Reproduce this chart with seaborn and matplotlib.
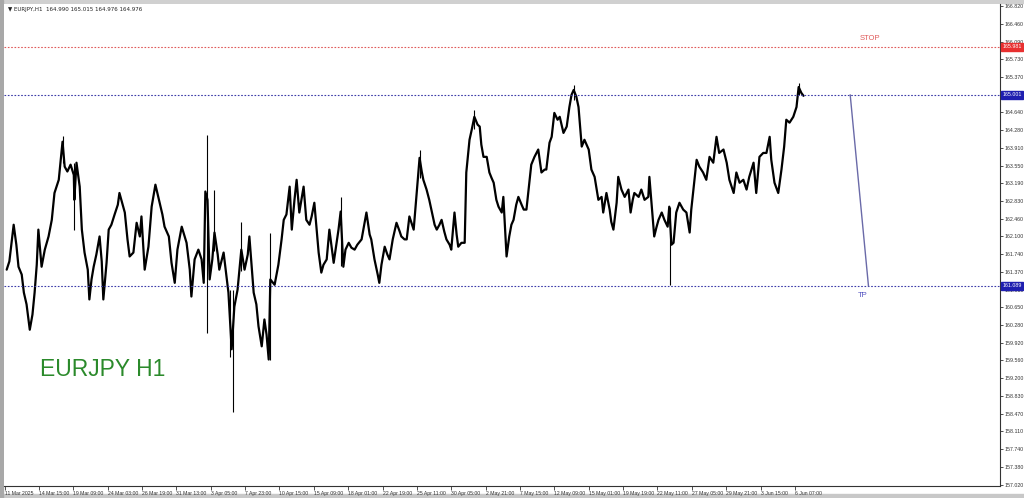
import numpy as np
import pandas as pd
import matplotlib
matplotlib.use("Agg")
import matplotlib.pyplot as plt
import seaborn as sns

# ---------------- data ----------------
# hour index (bars since first visible bar) and price
hours = [2, 7, 15, 20, 24, 30, 34, 39, 45, 50, 54, 58, 61, 67, 73, 80, 86, 91, 99, 106,
         110, 115, 121, 127, 128, 132, 138, 142, 147, 153, 156, 160, 164, 169, 175, 179, 182, 188, 192, 197,
         203, 209, 212, 218, 222, 227, 231, 238, 244, 250, 253, 259, 266, 272, 279, 287, 292, 296, 304, 309,
         315, 320, 328, 337, 343, 346, 352, 359, 365, 369, 372, 376, 380, 385, 389, 395, 398, 406, 411, 415,
         421, 426, 432, 439, 445, 451, 454, 462, 467, 471, 477, 482, 486, 490, 493, 501, 508,
         514, 518, 523, 529, 533, 538, 542, 547, 555, 560, 566, 570, 575, 583, 588, 592, 598, 603, 611,
         616, 620, 624, 629, 633, 639, 644, 650, 655, 663, 668, 672, 678, 681, 687, 693, 696, 700, 706,
         711, 715, 721, 728, 734, 737, 743, 747, 752, 760, 765, 771, 775, 778, 784, 789, 793, 799, 803,
         808, 812, 817, 821, 827, 830, 836, 840, 843, 849, 855, 858, 864, 868, 873, 879, 883, 886, 890,
         896, 901, 905, 909, 914, 918, 924, 927, 933, 938, 942, 946, 951, 955, 961, 965, 970, 976, 979,
         985, 992, 998, 1004, 1007, 1013,
         1017, 1022, 1028, 1032, 1039, 1045, 1050, 1054, 1058, 1063, 1067, 1073, 1078, 1086, 1091, 1097,
         1104, 1110, 1113, 1119, 1125, 1128, 1132, 1138, 1141, 1147, 1153, 1160, 1164, 1168, 1171, 1179,
         1184, 1190, 1197, 1199, 1205, 1208, 1212, 1216, 1222, 1227, 1233, 1236, 1240, 1244, 1249, 1255,
         1262, 1268, 1274, 1277, 1281, 1287, 1292, 1299, 1305, 1311, 1318, 1324, 1329, 1337, 1343, 1348,
         1356, 1361, 1367, 1374, 1380, 1385, 1393, 1398, 1404, 1411, 1417, 1423, 1426, 1432, 1439, 1445,
         1450, 1454, 1460, 1467, 1473, 1477, 1482, 1486]
close = [161.42, 161.59, 162.34, 161.93, 161.48, 161.32, 160.95, 160.71, 160.19, 160.50, 160.95, 161.52, 162.24, 161.48, 161.83, 162.10, 162.44, 162.99, 163.26, 164.04,
         163.53, 163.43, 163.57, 163.36, 162.85, 163.61, 163.12, 162.24, 161.77, 161.42, 160.81, 161.22, 161.48, 161.73, 162.10, 161.59, 160.81, 161.56, 162.24, 162.34,
         162.55, 162.75, 162.99, 162.75, 162.59, 162.04, 161.69, 161.77, 162.38, 162.10, 162.51, 161.42, 161.89, 162.71, 163.16, 162.79, 162.55, 162.30, 162.10, 161.56,
         161.15, 161.83, 162.30, 161.97, 161.42, 160.87, 161.63, 161.83, 161.63, 161.15, 163.02, 162.85, 161.22, 161.63, 162.18, 161.73, 161.42, 161.77, 161.32, 160.95,
         159.79, 160.66, 161.01, 161.83, 161.42, 161.73, 162.10, 160.95, 160.71, 160.26, 159.85, 160.40, 160.09, 159.58, 161.22, 161.11, 161.52,
         162.04, 162.44, 162.55, 163.12, 162.24, 162.85, 163.26, 162.59, 163.12, 162.44, 162.34, 162.51, 162.79, 161.77, 161.36, 161.52, 161.63, 162.24, 161.56,
         161.93, 162.24, 162.61, 161.48, 161.83, 161.97, 161.87, 161.83, 161.93, 162.04, 162.34, 162.59, 162.14, 162.04, 161.63, 161.32, 161.15, 161.52, 161.89,
         161.73, 161.63, 162.04, 162.38, 162.20, 162.10, 162.04, 162.04, 162.51, 162.24, 162.91, 163.71, 163.43, 163.26, 163.06, 162.85, 162.65, 162.34, 162.24,
         162.34, 162.44, 162.20, 162.04, 161.93, 161.83, 162.59, 162.14, 161.89, 161.97, 161.97, 163.41, 164.08, 164.28, 164.55, 164.39, 164.35, 163.98, 163.73,
         163.73, 163.41, 163.30, 163.20, 162.85, 162.71, 162.59, 162.91, 161.69, 162.10, 162.34, 162.44, 162.75, 162.91, 162.75, 162.65, 162.65, 163.26, 163.57,
         163.73, 163.88, 163.41, 163.47, 163.47, 164.02,
         164.14, 164.63, 164.49, 164.55, 164.22, 164.35, 164.75, 165.00, 165.10, 164.96, 164.75, 163.94, 164.08, 163.88, 163.47, 163.32,
         162.85, 162.91, 162.59, 162.99, 162.65, 162.40, 162.24, 162.79, 163.32, 163.06, 162.91, 163.06, 162.59, 162.85, 162.99, 162.91,
         163.06, 162.85, 162.91, 163.32, 162.51, 162.10, 162.28, 162.44, 162.59, 162.44, 162.30, 162.71, 161.93, 161.97, 162.59, 162.79,
         162.65, 162.59, 162.18, 162.65, 163.06, 163.67, 163.53, 163.41, 163.26, 163.73, 163.61, 164.14, 163.81, 163.88, 163.61, 163.26,
         162.99, 163.41, 163.20, 163.26, 163.06, 163.32, 163.61, 162.99, 163.73, 163.81, 163.81, 164.14, 163.67, 163.20, 162.99, 163.47,
         163.94, 164.49, 164.43, 164.55, 164.75, 165.16, 165.04, 164.98]

# notable wicks: hour, high, low
wick_hours = [106, 128, 376, 389, 417, 424, 439, 493, 624, 771, 873, 1058, 1238, 1477]
wick_high = [164.16, 163.61, 164.18, 163.06, 161.00, 161.00, 162.40, 162.18, 162.91, 163.88, 164.69, 165.21, 162.71, 165.25]
wick_low = [163.60, 162.24, 160.13, 161.80, 159.64, 158.50, 161.40, 159.58, 161.50, 163.30, 164.30, 164.90, 161.11, 165.00]

stop_level = 165.981
entry_level = 165.001
tp_level = 161.089
tp_line_hours = [1573, 1607]

price_ticks = [157.020, 157.380, 157.740, 158.110, 158.470, 158.830, 159.200, 159.560, 159.920,
               160.280, 160.650, 161.010, 161.370, 161.740, 162.100, 162.460, 162.830, 163.190,
               163.550, 163.910, 164.280, 164.640, 165.370, 165.730, 166.090, 166.460, 166.820]
time_labels = ["11 Mar 2025", "14 Mar 15:00", "19 Mar 09:00", "24 Mar 03:00", "26 Mar 19:00",
               "31 Mar 13:00", "3 Apr 05:00", "7 Apr 23:00", "10 Apr 15:00", "15 Apr 09:00",
               "18 Apr 01:00", "22 Apr 19:00", "25 Apr 11:00", "30 Apr 05:00", "2 May 21:00",
               "7 May 15:00", "12 May 09:00", "15 May 01:00", "19 May 19:00", "22 May 11:00",
               "27 May 05:00", "29 May 21:00", "3 Jun 15:00", "6 Jun 07:00"]
bars_per_label = 64
header = "\u25BC EURJPY,H1  164.990 165.015 164.976 164.976"

# ---------------- plot ----------------
sns.set_theme(style="white")
plt.rcParams['font.family'] = ['Liberation Sans', 'DejaVu Sans']

fig = plt.figure(figsize=(10.24, 4.98), dpi=100)
fig.patch.set_facecolor("white")
# window frame strips (gray)
fig.add_artist(plt.Rectangle((0, 0), 1, 4/498, transform=fig.transFigure, color="#c8c8c8", zorder=0))
fig.add_artist(plt.Rectangle((0, 1-3/498), 1, 3/498, transform=fig.transFigure, color="#d0d0d0", zorder=0))
fig.add_artist(plt.Rectangle((0, 0), 3/1024, 1, transform=fig.transFigure, color="#a8a8a8", zorder=0))

ax = fig.add_axes([4/1024, 1-486/498, 996/1024, 482/498])
ax.set_facecolor("white")

df = pd.DataFrame({"hour": hours, "price": close})
sns.lineplot(data=df, x="hour", y="price", ax=ax, color="black", lw=1.6, estimator=None, sort=False)
ax.vlines(wick_hours, wick_low, wick_high, color="black", lw=0.8)

xmin, xmax = -3, 1852
ax.set_xlim(xmin, xmax)
ax.set_ylim(156.99, 166.86)

# horizontal levels
ax.axhline(stop_level, color="#e05a5a", lw=0.8, ls=(0, (1.5, 1.5)))
ax.axhline(entry_level, color="#3b3ba8", lw=0.8, ls=(0, (1.5, 1.5)))
ax.axhline(tp_level, color="#3b3ba8", lw=0.8, ls=(0, (1.5, 1.5)))
ax.plot(tp_line_hours, [entry_level, tp_level], color="#6a6aa8", lw=1.0)
ax.text(1610, stop_level + 0.1, "STOP", color="#e05a5a", fontsize=5.5, ha="center", va="bottom")
ax.text(1597, tp_level - 0.12, "TP", color="#5050c0", fontsize=5.5, ha="center", va="top")

# axes frame
for s in ["top", "left"]:
    ax.spines[s].set_visible(False)
for s in ["right", "bottom"]:
    ax.spines[s].set_color("#333333")
    ax.spines[s].set_linewidth(0.8)

# price axis on right
ax.yaxis.tick_right()
ax.set_yticks(price_ticks)
ax.set_yticklabels([f"{v:.3f}" for v in price_ticks])
ax.tick_params(axis="y", right=True, length=2.5, width=0.6, pad=1, labelsize=3.8, colors="#333333")
ax.set_ylabel("")

# time axis
tpos = [-2 + bars_per_label * i for i in range(len(time_labels))]
ax.set_xticks(tpos)
ax.set_xticklabels(time_labels)
ax.tick_params(axis="x", bottom=True, length=3, width=0.6, pad=0.5, labelsize=3.7, colors="#333333")
for lab in ax.get_xticklabels():
    lab.set_horizontalalignment("left")
ax.set_xlabel("")

# coloured price labels on the axis
for lvl, col in [(stop_level, "#e83030"), (entry_level, "#1f1fb0"), (tp_level, "#1f1fb0")]:
    ax.text(1.0025, lvl, f"{lvl:.3f}", transform=ax.get_yaxis_transform(), fontsize=3.8, color="white",
            ha="left", va="center", zorder=10,
            bbox=dict(boxstyle="square,pad=0.3", fc=col, ec=col), clip_on=False)

# overlay texts
ax.text(0.036, 0.241, "EURJPY H1", transform=ax.transAxes, fontsize=16.5, color="#2b8a2b",
        ha="left", va="center")
ax.text(0.004, 0.993, header, transform=ax.transAxes, fontsize=4.0, color="#222222", ha="left", va="top",
        family=["DejaVu Sans"])

fig.savefig("out.png", dpi=100)
